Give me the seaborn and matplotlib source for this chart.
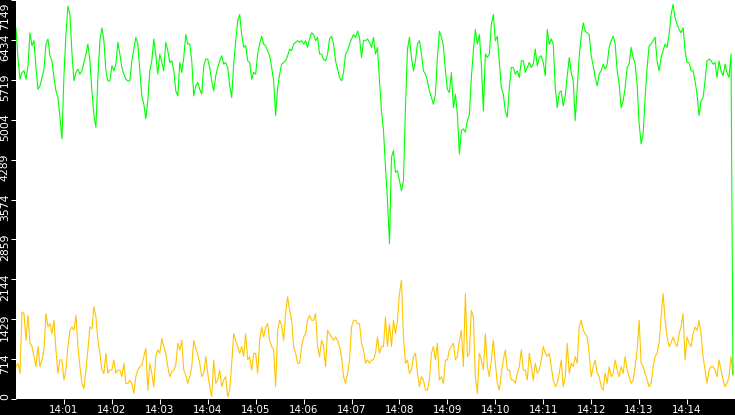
import numpy as np
import pandas as pd
import matplotlib
matplotlib.use("Agg")
import matplotlib.pyplot as plt
import matplotlib.transforms as mtransforms
import seaborn as sns

# ---- data ----
sample_step_s = 2.5  # seconds between samples, series starts 14:00:00

green_values = [
    6650, 6090, 5730, 5850, 5880, 5730, 5970, 6560, 6330, 6420,
    5940, 5550, 5610, 5760, 5910, 6360, 6450, 6150, 6060, 5760,
    5520, 5400, 5050, 4660, 5790, 6530, 7040, 6890, 6210, 5700,
    5850, 5910, 5820, 5880, 6030, 6180, 6360, 6060, 5520, 5100,
    4870, 5760, 6420, 6650, 6420, 5880, 5700, 5700, 5970, 5880,
    6000, 6390, 6180, 5940, 5820, 5730, 5700, 5700, 6060, 6270,
    6480, 6360, 5880, 5430, 5280, 5020, 5340, 5880, 6060, 6450,
    6150, 5820, 6180, 6030, 5880, 6390, 6240, 6030, 6060, 5880,
    5520, 5430, 6030, 5850, 6120, 6530, 6360, 6360, 6060, 5430,
    5610, 5670, 5550, 5460, 5970, 6090, 6090, 5940, 5700, 5520,
    5790, 5940, 6060, 6150, 6000, 6030, 5940, 5610, 5400, 6000,
    6420, 6770, 6890, 6530, 6300, 6330, 6060, 6030, 5730, 5850,
    5820, 6180, 6360, 6500, 6360, 6330, 6240, 6150, 5940, 5700,
    5080, 5580, 5820, 6000, 6030, 6060, 6150, 6270, 6240, 6360,
    6390, 6420, 6390, 6420, 6360, 6420, 6300, 6450, 6560, 6530,
    6420, 6480, 6180, 6180, 6090, 6060, 6180, 6450, 6500, 6360,
    6060, 5910, 5760, 5700, 5850, 6180, 6240, 6360, 6450, 6530,
    6480, 6590, 6480, 6120, 6420, 6420, 6450, 6390, 6300, 6480,
    6180, 6300, 5700, 5160, 4810, 4150, 3560, 2780, 4330, 4450,
    4060, 4090, 3910, 3730, 3910, 5220, 6270, 6480, 6120, 5880,
    6060, 6360, 6420, 6180, 5880, 5820, 5700, 5520, 5400, 5280,
    5460, 6120, 6590, 6480, 6330, 5880, 5550, 5490, 5850, 5220,
    5460, 5100, 4390, 4810, 4840, 4780, 4990, 5100, 5760, 6240,
    6620, 6360, 6530, 6000, 5160, 6180, 6120, 6180, 6710, 6890,
    6420, 6500, 6030, 5580, 5460, 5160, 5050, 5580, 5940, 5940,
    5820, 5880, 5760, 6060, 6060, 5850, 5940, 6030, 5940, 6000,
    6270, 5970, 6120, 6150, 6030, 5790, 6620, 6360, 6450, 6360,
    5580, 5220, 5490, 5520, 5250, 5430, 5790, 6120, 5850, 5700,
    4990, 5580, 6150, 6500, 6740, 6590, 6560, 6530, 6150, 5970,
    5760, 5610, 5820, 5880, 6000, 5910, 6000, 6300, 6420, 6500,
    6360, 5880, 5640, 5220, 5340, 5580, 5940, 6000, 6300, 6120,
    6000, 5640, 4930, 4570, 4750, 5400, 5940, 6330, 6360, 6420,
    6480, 6060, 5880, 6120, 6240, 6360, 6300, 6530, 6890, 7070,
    6830, 6710, 6620, 6560, 6650, 6240, 6030, 6030, 5880, 5880,
    5700, 5460, 5080, 5340, 5400, 5700, 6060, 6090, 6060, 6000,
    6030, 5760, 6060, 5880, 5790, 6000, 5850, 5760, 6180, 430,
]

yellow_values = [
    580, 640, 460, 1560, 1530, 1050, 1500, 1000, 940, 760,
    580, 940, 580, 700, 880, 1530, 1290, 1350, 1170, 1410,
    880, 460, 700, 700, 340, 520, 940, 1230, 1290, 1230,
    1500, 940, 580, 280, 190, 520, 880, 1290, 1260, 1650,
    1470, 1050, 820, 520, 460, 820, 460, 520, 520, 700,
    460, 520, 520, 400, 640, 280, 280, 340, 280, 100,
    400, 520, 580, 610, 760, 910, 160, 640, 460, 220,
    760, 880, 820, 1080, 940, 820, 580, 400, 490, 520,
    610, 1000, 880, 1050, 520, 430, 280, 400, 580, 1050,
    910, 790, 640, 400, 460, 760, 460, 220, 40, 700,
    280, 340, 520, 220, 340, 400, 40, 160, 640, 1170,
    1050, 940, 820, 940, 760, 1170, 700, 760, 520, 820,
    820, 460, 1050, 1290, 1110, 1290, 1350, 1050, 940, 880,
    220, 1230, 1410, 1320, 1050, 1530, 1830, 1590, 1410, 940,
    820, 640, 640, 940, 1110, 1170, 1410, 1500, 1410, 1410,
    1530, 940, 760, 1050, 940, 580, 1230, 1170, 1110, 1050,
    1110, 1050, 940, 760, 400, 280, 460, 700, 1290, 1410,
    1410, 1350, 1350, 1000, 880, 640, 700, 640, 700, 700,
    820, 1110, 820, 940, 940, 1470, 940, 1350, 940, 1410,
    1170, 1410, 1890, 2130, 1110, 640, 700, 460, 520, 760,
    820, 460, 220, 400, 340, 160, 160, 340, 820, 940,
    700, 1000, 340, 400, 280, 700, 700, 880, 940, 1000,
    700, 760, 1050, 1230, 580, 1890, 760, 820, 1590, 1470,
    400, 100, 820, 700, 520, 1170, 580, 400, 700, 1050,
    640, 280, 160, 460, 700, 880, 520, 520, 340, 340,
    280, 460, 580, 880, 520, 520, 340, 820, 580, 340,
    640, 460, 520, 700, 940, 820, 760, 820, 580, 340,
    220, 280, 460, 700, 220, 400, 1000, 460, 640, 580,
    760, 640, 1290, 1410, 1230, 1170, 1110, 820, 400, 580,
    700, 460, 400, 220, 160, 460, 280, 580, 400, 460,
    700, 520, 400, 580, 460, 760, 520, 400, 280, 340,
    580, 880, 1410, 640, 580, 460, 340, 220, 280, 580,
    760, 820, 1000, 1470, 1890, 1410, 1110, 940, 1000, 1110,
    1000, 940, 1170, 1290, 1530, 700, 1110, 1000, 940, 1170,
    1290, 1230, 1410, 1170, 760, 520, 280, 520, 580, 580,
    520, 400, 700, 520, 340, 220, 280, 400, 760, 430,
]

y_tick_values = [0, 714, 1429, 2144, 2859, 3574, 4289, 5004, 5719, 6434, 7149]
x_tick_labels = ["14:01", "14:02", "14:03", "14:04", "14:05", "14:06", "14:07",
                 "14:08", "14:09", "14:10", "14:11", "14:12", "14:13", "14:14"]
x_tick_seconds = [60 * (i + 1) for i in range(len(x_tick_labels))]

GREEN = "#00ff00"
YELLOW = "#ffc400"

sns.set_theme(style="white")
plt.rcParams["font.family"] = ["DejaVu Sans"]

W, H = 735, 415
fig = plt.figure(figsize=(W / 100, H / 100), dpi=100, facecolor="black")
ax = fig.add_axes([16 / W, 16 / H, (W - 16) / W, (H - 16) / H])
ax.set_facecolor("white")

df_y = pd.DataFrame({"t": np.arange(len(yellow_values)) * sample_step_s, "v": yellow_values})
df_g = pd.DataFrame({"t": np.arange(len(green_values)) * sample_step_s, "v": green_values})

sns.lineplot(data=df_y, x="t", y="v", color=YELLOW, linewidth=0.8, ax=ax,
             estimator=None, sort=False, antialiased=True)
sns.lineplot(data=df_g, x="t", y="v", color=GREEN, linewidth=0.8, ax=ax,
             estimator=None, sort=False, antialiased=True)

ax.set_xlim(0, 900)
ax.set_ylim(0, 7149)
ax.set_xlabel("")
ax.set_ylabel("")
for s in ax.spines.values():
    s.set_visible(False)

ax.set_xticks(x_tick_seconds)
ax.set_xticklabels(x_tick_labels)
ax.set_yticks(y_tick_values)
ax.set_yticklabels([str(v) for v in y_tick_values], rotation=90, va="top")

ax.tick_params(axis="both", colors="white", direction="out", length=3.6, width=0.75,
               left=True, bottom=True)
ax.tick_params(axis="x", labelsize=7.4, pad=0.5)
ax.tick_params(axis="y", labelsize=7.8, pad=0.8)

labels = ax.get_yticklabels()
for i, lab in enumerate(labels):
    dy = 6 if i < len(labels) - 1 else -3
    lab.set_transform(lab.get_transform() +
                      mtransforms.ScaledTranslation(0, dy / 100, fig.dpi_scale_trans))

fig.savefig("out.png", dpi=100, facecolor="black")
